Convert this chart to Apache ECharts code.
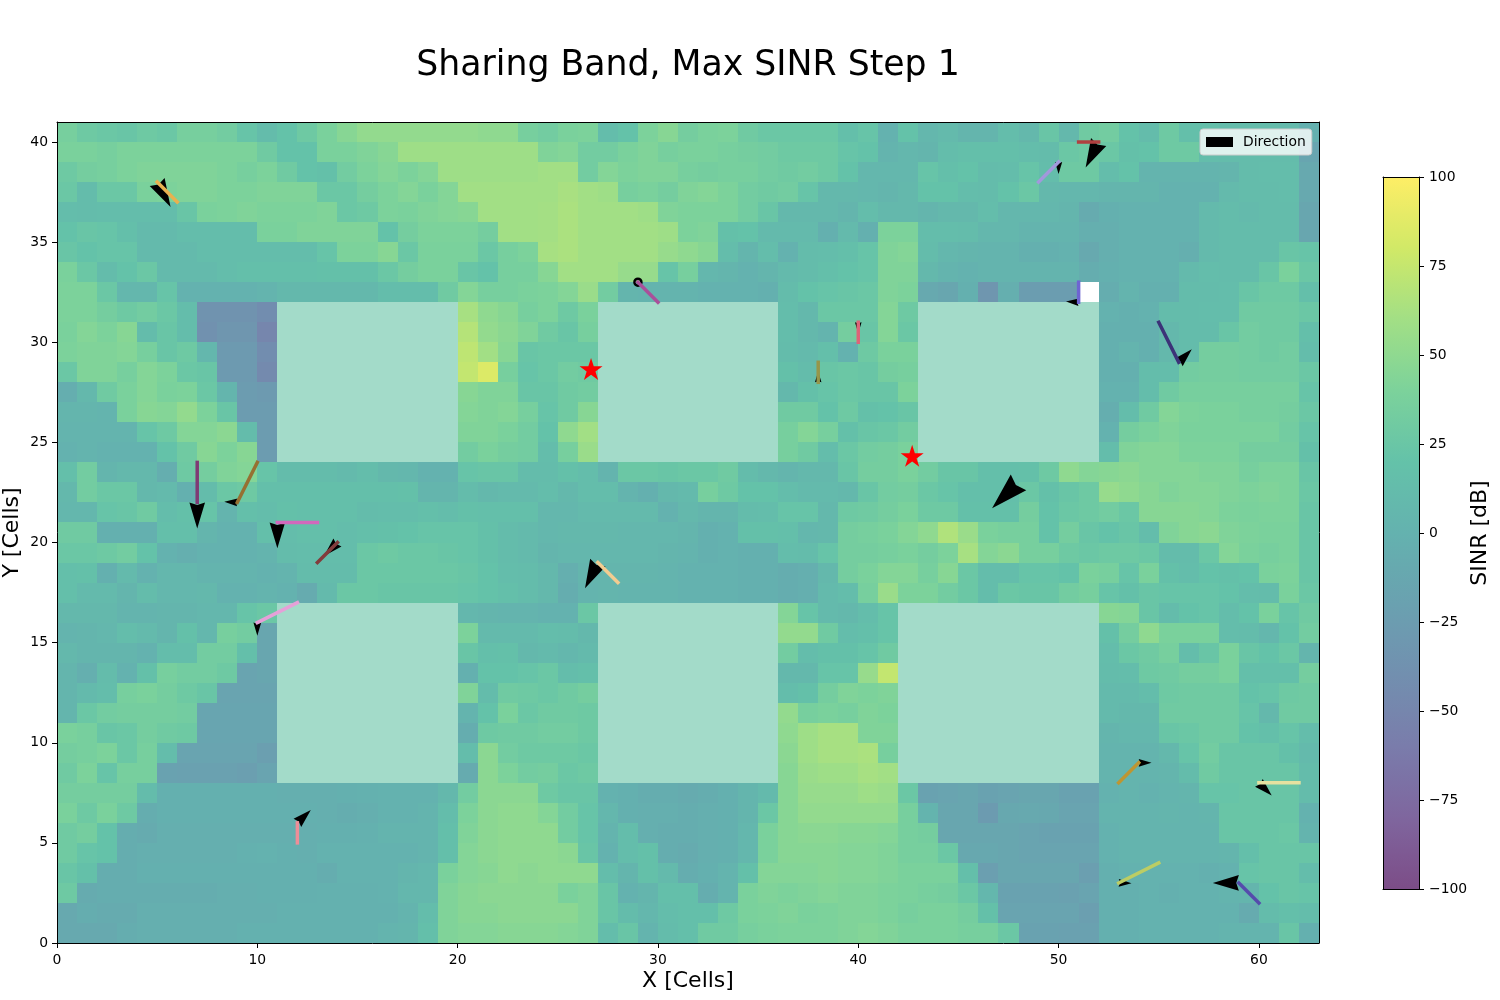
<!DOCTYPE html>
<html><head><meta charset="utf-8">
<script src="https://cdn.jsdelivr.net/npm/echarts@6/dist/echarts.min.js"></script>
<style>html,body{margin:0;padding:0;background:#fff}#c{width:1500px;height:1000px}</style></head>
<body><div id="c"></div>
<script>
const n=null;
const B9=Array(9).fill(n), B10=Array(10).fill(n);
// SINR [dB] per cell, left to right, y = 40 down to y = 0. null = no value (buildings / empty)
const row40=[36,28,26,24,28,26,36,36,32,22,12,20,28,38,46,52,52,52,52,52,52, 50,50,36,32,38,40,14,20,40,46,34,38,40,30,26,26,26,26,16,22,0, 20,6,10,4,4,14,8,24,8,30,32,20,12,28,16,16,12,12,12,10,-2];
const row39=[38,38,36,40,40,40,40,40,40,40,30,20,20,38,38,42,46,58,58,58,58, 58,58,58,42,44,32,32,38,42,36,38,38,36,34,32,28,28,28,22,20,2, 6,4,14,16,16,16,14,12,26,28,26,18,20,28,28,14,12,12,12,12,-15];
const row38=[28,34,36,40,42,42,42,42,40,36,40,30,20,18,32,40,44,40,44,58,58, 58,58,58,60,60,32,44,40,42,42,36,34,36,36,32,30,32,28,20,6,6, 6,22,16,20,12,14,22,14,28,28,14,20,2,2,2,2,4,12,14,14,-10];
const row37=[26,12,26,26,38,40,42,42,40,40,42,42,42,26,26,34,40,44,38,44,60, 60,60,60,60,63,60,58,36,38,34,42,44,40,32,30,32,22,8,8,6,4, 8,20,20,14,12,20,26,8,6,6,4,4,4,0,0,0,10,12,12,14,-10];
const row36=[14,12,14,14,14,14,24,38,40,42,40,40,40,42,26,28,40,38,42,44,46, 60,60,60,61,64,60,60,60,58,42,40,40,40,32,24,8,8,8,4,14,8, 8,4,8,8,14,6,6,6,4,-8,-2,0,0,0,0,10,12,10,12,12,-14];
const row35=[20,24,22,16,10,10,14,14,14,14,38,38,42,42,42,42,20,34,40,40,40, 34,60,60,61,64,60,60,60,60,58,40,42,18,20,10,10,10,-2,10,-2,40, 40,14,14,12,6,6,2,2,2,-4,-4,0,0,0,0,10,12,12,12,12,-14];
const row34=[24,20,22,22,10,10,10,14,14,14,14,14,14,22,40,40,46,26,38,38,38, 26,36,40,62,64,60,60,60,60,54,50,46,14,4,14,0,12,14,16,22,42, 44,12,6,4,2,2,-2,-2,0,-10,-4,0,0,0,-4,10,12,12,12,24,22];
const row33=[38,26,12,20,26,10,10,10,14,16,16,16,16,18,18,18,26,34,38,38,24, 20,36,36,46,60,60,60,54,54,22,36,6,4,0,4,10,12,16,20,22,42, 42,8,2,0,2,2,2,2,2,-6,-2,0,0,0,10,14,12,12,24,38,26];
const row32=[40,40,26,6,6,22,0,0,0,0,2,8,8,8,8,8,14,14,14,30,44, 36,36,38,40,44,56,32,4,2,2,2,0,0,0,-2,12,20,22,24,26,42, 40,-10,-14,-2,-32,-4,-24,-24,-24,n,-6,2,-2,-2,12,12,14,24,28,28,16];
const row31=[40,40,34,28,32,26,14,-35,-35,-35,-42,...B9,62, 50,46,36,40,28,38,...B9,14,8,26,26,26,44, 28,...B9,0,-2,0,12,12,14,14,30,30,30,26];
const row30=[38,44,40,46,12,24,14,-38,-32,-32,-50,...B9,68, 52,48,42,30,24,36,...B9,14,8,2,34,24,44, 26,...B9,-2,-2,-2,8,12,12,24,32,30,30,16];
const row29=[40,42,42,44,36,24,28,6,-28,-28,-42,...B9,72, 60,46,24,26,26,26,...B9,12,10,16,0,28,38, 38,...B9,-2,2,-2,8,12,34,34,32,30,32,14];
const row28=[26,42,42,36,44,40,26,24,-28,-28,-45,...B9,74, 85,36,22,26,32,30,...B9,18,12,24,26,24,34, 36,...B9,-2,-2,14,14,32,34,34,32,32,32,26];
const row27=[-5,8,30,38,44,38,40,26,4,-25,-28,...B9,46, 42,42,24,24,30,32,...B9,8,18,22,26,24,24, 40,...B9,0,0,14,30,36,36,36,36,36,36,22];
const row26=[4,4,2,38,46,44,52,40,24,-25,-25,...B9,44, 42,44,36,22,30,46,...B9,30,30,20,28,18,20, 24,...B9,-5,14,30,44,40,38,38,36,36,34,26];
const row25=[2,2,2,2,22,28,44,44,48,12,-25,...B9,42, 42,38,32,20,50,60,...B9,36,44,36,18,24,26, 32,...B9,0,34,38,42,38,38,38,38,38,32,22];
const row24=[0,2,0,0,0,20,30,46,40,46,-25,...B9,32, 38,34,32,14,36,56,...B9,36,30,14,26,32,34, 38,...B9,14,42,44,44,40,40,40,34,34,34,18];
const row23=[16,32,4,8,8,-5,28,34,42,44,22,12,12,12,10,14,8,6,0,0,22, 24,24,12,12,18,14,2,26,26,24,26,26,30,12,8,4,8,8,24,34,34, 38,32,24,24,16,16,18,28,50,44,46,48,44,44,44,42,42,36,40,40,24];
const row22=[8,32,26,26,8,10,-2,12,26,28,16,16,16,16,16,16,16,18,4,4,12, 8,10,10,14,8,14,14,2,-2,8,10,36,28,20,20,14,10,10,8,24,32, 34,26,22,16,16,16,26,18,24,28,54,50,46,42,44,44,42,40,42,40,26];
const row21=[6,6,22,24,30,14,18,22,2,16,14,18,16,16,16,12,14,14,16,14,18, 16,16,16,6,6,10,10,10,10,0,8,4,4,12,14,22,22,8,28,30,34, 38,28,28,18,18,18,34,20,26,28,32,26,46,46,46,44,40,38,40,40,24];
const row20=[30,30,-2,-2,-2,16,16,4,0,0,16,14,16,16,14,16,18,20,22,22,22, 18,12,10,6,8,8,8,6,6,6,4,-2,0,18,18,16,6,8,34,36,38, 44,50,66,56,38,36,36,20,34,24,20,24,14,42,46,48,42,40,38,38,24];
const row19=[26,26,28,32,20,0,-4,0,0,0,2,12,14,14,14,26,28,26,26,24,22, 18,12,10,4,6,6,6,6,6,4,2,-2,0,-2,-2,14,12,22,34,34,36, 38,34,40,62,44,48,36,36,28,26,28,28,26,12,12,26,44,38,36,38,24];
const row18=[16,18,-2,10,0,6,6,2,2,2,0,2,12,12,12,26,26,26,26,26,24, 20,14,12,8,-4,4,4,4,4,2,0,0,0,-2,-2,-6,-4,8,34,38,44, 44,36,46,26,14,14,22,22,20,38,36,22,38,18,14,20,18,20,38,40,24];
const row17=[16,10,10,4,12,6,6,8,0,0,2,0,-8,10,26,26,24,24,24,24,22, 20,16,12,8,-6,2,4,2,2,2,0,0,0,-2,-2,-6,-4,10,14,36,56, 40,40,32,26,14,26,24,24,32,36,22,18,24,22,22,22,20,14,12,38,26];
const row16=[8,8,8,2,2,4,4,6,6,22,26,...B9,6, 4,2,2,0,0,26,...B9,44,22,10,8,14,22, ...B10,46,44,24,12,20,22,14,20,38,22,30];
const row15=[2,4,6,14,10,4,18,6,36,32,-14,...B9,40, 10,10,10,14,12,8,...B9,52,52,30,14,16,22, ...B10,18,34,50,38,38,38,14,12,6,20,32];
const row14=[8,4,4,4,0,14,14,32,32,16,-14,...B9,24, 16,18,8,10,6,10,...B9,32,14,18,18,22,30, ...B10,14,26,30,36,14,24,38,24,20,26,4];
const row13=[4,-4,12,0,18,36,32,32,28,-16,-14,...B9,-2, 20,20,22,26,14,16,...B9,8,8,22,22,54,74, ...B10,12,14,28,30,34,34,38,16,16,16,34];
const row12=[4,10,14,36,38,34,28,24,-16,-16,-16,...B9,42, 12,30,28,26,30,34,...B9,14,18,34,42,40,42, ...B10,10,10,14,28,30,30,30,20,22,28,30];
const row11=[4,26,32,34,34,34,32,-15,-15,-15,-15,...B9,2, 20,38,26,30,30,28,...B9,52,36,38,36,42,40, ...B10,10,8,8,30,30,30,30,22,8,30,30];
const row10=[38,36,24,26,34,30,28,-15,-15,-15,-15,...B9,-6, 28,30,30,32,32,28,...B9,50,58,62,62,42,42, ...B10,4,6,6,24,26,30,30,20,16,22,14];
const row9=[34,36,40,26,36,14,-16,-16,-16,-16,-22,...B9,14, 48,32,28,28,28,26,...B9,48,58,62,62,64,36, ...B10,2,2,2,8,22,32,24,24,24,18,10];
const row8=[30,40,22,36,36,-18,-20,-20,-20,-22,-16,...B9,-8, 48,40,32,34,26,28,...B9,46,56,58,58,62,60, ...B10,2,2,2,4,12,30,24,24,24,24,12];
const row7=[34,34,34,34,12,-2,-2,-2,-2,-2,-2,-3,-3,-3,-2,-1,0,0,0,8,32, 48,48,48,28,24,24,0,-2,-6,-6,-8,-6,-2,4,10,46,54,54,54,58,56, 26,-18,-16,-14,-18,-16,-14,-14,-18,-18,0,2,0,2,4,22,22,24,24,24,12];
const row6=[38,28,38,28,-6,-2,-2,-2,-2,-2,-2,-2,-2,-4,-6,-4,0,0,2,14,40, 48,50,50,44,32,22,6,-2,-4,-4,-6,-4,-2,4,26,46,52,52,52,52,52, 36,2,-14,-14,-26,-12,-10,-12,-16,-16,2,2,2,4,2,4,24,24,24,24,0];
const row5=[30,34,20,-6,-8,-3,-3,-3,-3,-3,-3,-3,-3,-2,-2,-1,2,2,2,16,42, 48,50,50,50,32,22,2,14,-4,-6,-6,-4,-2,6,38,46,48,48,46,46,44, 36,34,-14,-14,-14,-14,-16,-18,-18,-18,0,2,2,2,2,2,24,24,24,26,2];
const row4=[30,22,20,-6,-3,-3,-3,-3,-3,-1,0,-2,-3,0,0,0,0,0,2,16,44, 48,50,50,50,48,24,0,14,18,-6,-8,-4,-2,6,38,46,46,46,44,44,42, 36,36,26,-12,-12,-14,-16,-16,-16,-16,0,2,2,2,2,2,4,16,24,24,24];
const row3=[24,18,-6,-6,-2,-2,-2,-2,-2,-2,-2,-2,-2,-6,0,0,0,4,6,38,44, 46,50,48,50,50,50,14,4,18,10,-6,-2,2,18,44,44,44,46,44,44,42, 38,38,38,16,-22,-14,-14,-14,-14,-22,-2,0,0,0,0,-2,0,22,24,24,14];
const row2=[28,-8,-6,-6,-6,-6,-6,-6,-3,-3,-2,-2,-2,-1,-1,-1,0,6,6,42,46, 48,48,48,48,38,42,24,0,4,16,16,-6,2,38,42,40,42,44,42,42,40, 38,36,34,26,6,-18,-18,-18,-20,-16,-2,-2,0,-2,0,0,2,4,20,24,22];
const row1=[-10,-6,-8,-8,-3,-3,-3,-3,-3,-3,-3,-1,-1,-1,-1,-1,-1,2,14,42,46, 46,48,48,48,48,42,24,12,6,14,16,16,28,38,40,42,38,40,42,42,40, 36,38,38,34,18,-16,-16,-16,-16,-22,-2,-2,0,0,0,0,0,-8,12,16,14];
const row0=[-10,-10,-10,-6,-3,-3,-3,-3,-3,-1,-1,-1,-1,-1,-1,-1,2,4,16,42,44, 44,46,46,46,44,42,14,24,2,12,16,30,30,36,38,40,40,40,42,44,42, 38,38,38,36,36,26,-18,-18,-20,-20,-2,-2,0,0,0,0,2,2,2,24,-2];
const sinrRows=[row0,row1,row2,row3,row4,row5,row6,row7,row8,row9,row10,row11,row12,row13,row14,row15,row16,row17,row18,row19,row20,row21,row22,row23,row24,row25,row26,row27,row28,row29,row30,row31,row32,row33,row34,row35,row36,row37,row38,row39,row40];

// Buildings in cell units
const buildingX0=[11,27,43,11,27,42];
const buildingX1=[20,36,52,20,36,52];
const buildingY0=[24,24,24,8,8,8];
const buildingY1=[32,32,32,17,17,17];

// Coloured track segments
const trackX0=[6,30,40,38,51,49,51,55,7,10,13,13,12,28,12,53,62,55,60];
const trackY0=[37,32,30,29,40,38,33,31,24,24,21,19,17,18,5,8,8,4,2];
const trackX1=[5,29,40,38,52,50,51,56,7,9,11,14,10,27,12,54,60,53,59];
const trackY1=[38,33,31,28,40,39,32,29,22,22,21,20,16,19,6,9,8,3,3];
const trackColors=['#e9b14f','#a9509a','#dd6478','#96964a','#b04040','#a298dc','#6e64d2','#3c3278','#7f3a74','#967032','#d268bc','#823c3c','#e6a0d8','#f2cc90','#ee8e98','#be9632','#e6e1a0','#bccd64','#554bac'];

// Direction arrowheads: base and tip
const arrowBaseX=[5,40,38,52,50,51,56,7,9,11,14,10,27,48,12,54,60,53,59];
const arrowBaseY=[38,31,28,40,39,32,29,22,22,21,20,16,19,23,6,9,8,3,3];
const arrowTipX=[5.67,40,38,51.35,50,50.37,56.65,7,8.35,11,13.33,10,26.36,46.68,12.67,54.64,60.64,53.64,57.7];
const arrowTipY=[36.76,30.45,28.54,38.73,38.4,32.03,29.65,20.7,22.04,19.71,19.33,15.35,17.72,21.71,6.64,9,7.36,2.98,3];
const ringX=[29], ringY=[33];

const starX=[26.66,42.69], starY=[28.67,24.33];
const xTicks=[0,10,20,30,40,50,60];
const yTicks=[0,5,10,15,20,25,30,35,40];
const barTicks=[-100,-75,-50,-25,0,25,50,75,100];

const viridis=[[68,1,84],[72,36,117],[65,68,135],[53,95,141],[42,120,142],[33,145,140],[34,168,132],[68,191,112],[122,209,81],[189,223,38],[253,231,37]];
function sinrColor(v){
  const t=Math.max(0,Math.min(1,(v+100)/200))*10, i=Math.min(9,Math.floor(t)), f=t-i;
  const c=viridis[i].map((a,k)=>a+(viridis[i+1][k]-a)*f).map(a=>Math.round(a*0.7+255*0.3));
  return `rgb(${c[0]},${c[1]},${c[2]})`;
}
const cells=[];
sinrRows.forEach((r,y)=>r.forEach((v,x)=>{if(v!==null)cells.push([x,y,v]);}));
const buildings=buildingX0.map((x,i)=>[x,buildingY0[i],buildingX1[i],buildingY1[i]]);
const tracks=trackX0.map((x,i)=>[x,trackY0[i],trackX1[i],trackY1[i],i]);
const arrows=arrowBaseX.map((x,i)=>[x,arrowBaseY[i],arrowTipX[i],arrowTipY[i]]);
const stops=[];
for(let i=0;i<=20;i++){stops.push({offset:i/20,color:sinrColor(100-i*10)});}

function rectBetween(api,x0,y0,x1,y1,style){
  const a=api.coord([x0,y1]), b=api.coord([x1,y0]);
  const l=Math.round(a[0]),t=Math.round(a[1]),r=Math.round(b[0]),d=Math.round(b[1]);
  return {type:'rect',shape:{x:l,y:t,width:r-l,height:d-t},style};
}
const FONT='DejaVu Sans';
const frame={show:true,onZero:false,lineStyle:{color:'#000',width:1}};
const off={show:false};
const chart=echarts.init(document.getElementById('c'),null,{renderer:'canvas'});
chart.setOption({
  animation:false,
  backgroundColor:'#fff',
  textStyle:{fontFamily:FONT,color:'#000'},
  title:{text:'Sharing Band, Max SINR Step 1',left:688,top:48,padding:0,textAlign:'center',
    textStyle:{fontFamily:FONT,fontSize:34.7,fontWeight:'normal',color:'#000'}},
  legend:{show:true,left:1200,top:129,data:[{name:'Direction',icon:'rect',itemStyle:{color:'#000'}}],
    itemWidth:27,itemHeight:10,padding:[6,6,6,6],backgroundColor:'rgba(255,255,255,0.8)',borderColor:'#ccc',borderWidth:1,borderRadius:3,
    textStyle:{fontFamily:FONT,fontSize:13.9,color:'#000',padding:[0,0,0,5]}},
  grid:[{left:57,top:122,width:1262,height:821,outerBoundsMode:'none'},{left:1383,top:177,width:36,height:712,outerBoundsMode:'none'}],
  xAxis:[
    {type:'value',gridIndex:0,min:0,max:63,position:'bottom',z:6,name:'X [Cells]',nameLocation:'middle',nameGap:27,nameMoveOverlap:false,
      nameTextStyle:{fontFamily:FONT,fontSize:22,color:'#000'},splitLine:off,axisLine:frame,
      axisTick:{show:true,length:5,lineStyle:{color:'#000',width:1},customValues:xTicks},
      axisLabel:{fontFamily:FONT,fontSize:13.9,color:'#000',margin:10,customValues:xTicks}},
    {type:'value',gridIndex:0,min:0,max:63,position:'top',z:6,splitLine:off,axisLine:frame,axisTick:off,axisLabel:off},
    {type:'value',gridIndex:1,min:0,max:1,position:'bottom',z:6,splitLine:off,axisLine:frame,axisTick:off,axisLabel:off},
    {type:'value',gridIndex:1,min:0,max:1,position:'top',z:6,splitLine:off,axisLine:frame,axisTick:off,axisLabel:off}
  ],
  yAxis:[
    {type:'value',gridIndex:0,min:0,max:41,position:'left',z:6,name:'Y [Cells]',nameLocation:'middle',nameGap:34,nameRotate:90,nameMoveOverlap:false,
      nameTextStyle:{fontFamily:FONT,fontSize:22,color:'#000'},splitLine:off,axisLine:frame,
      axisTick:{show:true,length:5,lineStyle:{color:'#000',width:1},customValues:yTicks},
      axisLabel:{fontFamily:FONT,fontSize:13.9,color:'#000',margin:9,padding:[3,0,0,0],customValues:yTicks}},
    {type:'value',gridIndex:0,min:0,max:41,position:'right',z:6,splitLine:off,axisLine:frame,axisTick:off,axisLabel:off},
    {type:'value',gridIndex:1,min:-100,max:100,position:'right',z:6,name:'SINR [dB]',nameLocation:'middle',nameGap:50,nameRotate:90,nameMoveOverlap:false,
      nameTextStyle:{fontFamily:FONT,fontSize:22,color:'#000'},splitLine:off,axisLine:frame,
      axisTick:{show:true,length:5,lineStyle:{color:'#000',width:1},customValues:barTicks},
      axisLabel:{fontFamily:FONT,fontSize:13.9,color:'#000',margin:10,padding:[3,0,0,0],customValues:barTicks,formatter:v=>String(v).replace('-','\u2212')}},
    {type:'value',gridIndex:1,min:-100,max:100,position:'left',z:6,splitLine:off,axisLine:frame,axisTick:off,axisLabel:off}
  ],
  series:[
    {type:'custom',name:'SINR',xAxisIndex:0,yAxisIndex:0,z:1,data:cells,silent:true,
      renderItem:(p,api)=>{const x=api.value(0),y=api.value(1);
        return rectBetween(api,x,y,x+1,y+1,{fill:sinrColor(api.value(2))});}},
    {type:'custom',name:'Buildings',xAxisIndex:0,yAxisIndex:0,z:2,data:buildings,silent:true,
      renderItem:(p,api)=>rectBetween(api,api.value(0),api.value(1),api.value(2),api.value(3),{fill:'#a3dbc9'})},
    {type:'custom',name:'Direction',xAxisIndex:0,yAxisIndex:0,z:3,data:arrows,clip:false,silent:true,
      itemStyle:{color:'#000'},
      renderItem:(p,api)=>{
        const b=api.coord([api.value(0),api.value(1)]), t=api.coord([api.value(2),api.value(3)]);
        const dx=t[0]-b[0], dy=t[1]-b[1];
        const w=0.3;
        return {type:'polygon',shape:{points:[t,[b[0]-dy*w,b[1]+dx*w],[b[0]+dx*0.1,b[1]+dy*0.1],[b[0]+dy*w,b[1]-dx*w]]},style:{fill:'#000'}};
      }},
    {type:'scatter',name:'Ring',xAxisIndex:0,yAxisIndex:0,z:3,silent:true,symbol:'circle',symbolSize:7,
      data:ringX.map((x,i)=>[x,ringY[i]]),itemStyle:{color:'rgba(0,0,0,0)',borderColor:'#000',borderWidth:2.5,opacity:1}},
    {type:'custom',name:'Tracks',xAxisIndex:0,yAxisIndex:0,z:4,data:tracks,clip:false,silent:true,
      renderItem:(p,api)=>{
        const a=api.coord([api.value(0),api.value(1)]), b=api.coord([api.value(2),api.value(3)]);
        return {type:'line',shape:{x1:a[0],y1:a[1],x2:b[0],y2:b[1]},
          style:{stroke:trackColors[api.value(4)],lineWidth:3.5,lineCap:'square',fill:null}};
      }},
    {type:'scatter',name:'Stars',xAxisIndex:0,yAxisIndex:0,z:5,silent:true,
      symbol:'path://M0,-50 L11.2,-15.5 L47.6,-15.5 L18.2,5.9 L29.4,40.5 L0,19.1 L-29.4,40.5 L-18.2,5.9 L-47.6,-15.5 L-11.2,-15.5 Z',
      symbolSize:[23,22],data:starX.map((x,i)=>[x,starY[i]]),itemStyle:{color:'#ff0000',opacity:1}},
    {type:'custom',name:'Colorbar',xAxisIndex:2,yAxisIndex:2,z:1,silent:true,data:[[0,-100,1,100]],
      renderItem:(p,api)=>rectBetween(api,api.value(0),api.value(1),api.value(2),api.value(3),
        {fill:new echarts.graphic.LinearGradient(0,0,0,1,stops)})}
  ]
});
</script></body></html>
